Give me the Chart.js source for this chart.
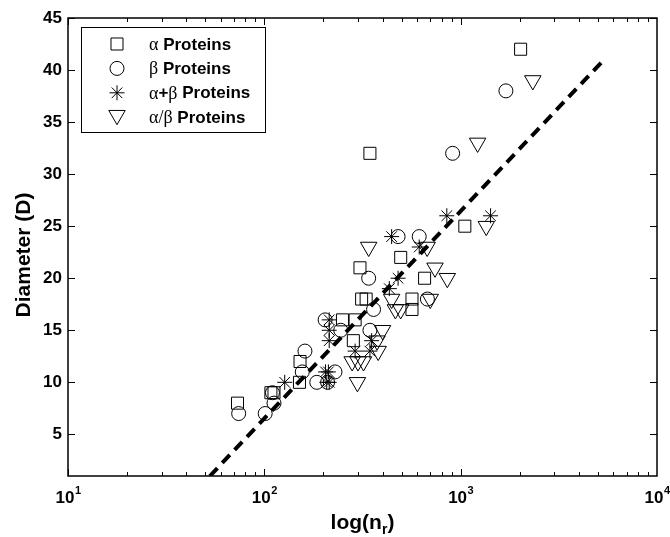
<!DOCTYPE html>
<html>
<head>
<meta charset="utf-8">
<script src="https://cdn.jsdelivr.net/npm/chart.js@4.4.1/dist/chart.umd.min.js"></script>
<style>
  html, body { margin: 0; padding: 0; background: #fff; }
  #wrap { width: 670px; height: 537px; position: relative; }
</style>
</head>
<body>
<div id="wrap"><canvas id="c"></canvas></div>
<script>
// ---- data (n_r, D) ----
const alphaX = [73, 108, 112, 151, 152, 250, 290, 284, 313, 330, 307, 345, 495, 565, 565, 655, 1050, 2020];
const alphaY = [8, 9, 9, 10, 12, 16, 16, 14, 18, 18, 21, 32, 22, 18, 17, 20, 25, 42];

const betaX = [74, 101, 112, 110, 156, 161, 185, 204, 210, 229, 245, 340, 345, 360, 480, 615, 677, 910, 1700];
const betaY = [7, 7, 8, 9, 11, 13, 10, 16, 10, 11, 15, 20, 15, 17, 24, 24, 18, 32, 38];

const abX = [127, 205, 212, 208, 214, 214, 214, 214, 290, 345, 352, 433, 480, 445, 615, 850, 1420];
const abY = [10, 11, 11, 10, 10, 14, 15, 16, 13, 13, 14, 19, 20, 24, 23, 26, 26];

const aSlashBX = [298, 280, 300, 320, 380, 375, 400, 465, 495, 445, 700, 855, 740, 340, 675, 1350, 1220, 2330];
const aSlashBY = [10, 12, 12, 12, 13, 14, 15, 17, 17, 18, 18, 20, 21, 23, 23, 25, 33, 39];

const fitX = [52.8, 5370];
const fitY = [1, 41];

const yTicks = [5, 10, 15, 20, 25, 30, 35, 40, 45];
const xDecades = [1, 2, 3, 4];

const legendItems = [
  { style: 'rect', radius: 8.5, rotation: 0, parts: [['α', 'serif'], [' Proteins', 'bold']] },
  { style: 'circle', radius: 7, rotation: 0, parts: [['β', 'serif'], [' Proteins', 'bold']] },
  { style: 'star', radius: 7.5, rotation: 0, parts: [['α', 'serif'], ['+', 'bold'], ['β', 'serif'], [' Proteins', 'bold']] },
  { style: 'triangle', radius: 9.5, rotation: 180, parts: [['α/β', 'serif'], [' Proteins', 'bold']] }
];

const pts = (xs, ys) => xs.map((v, i) => ({ x: v, y: ys[i] }));
const SANS = '"Liberation Sans", Arial, Helvetica, sans-serif';
const SERIF = '"Liberation Serif", "Times New Roman", serif';

const markerBase = { borderColor: '#000', backgroundColor: 'rgba(0,0,0,0)', borderWidth: 1, showLine: false };

const decor = {
  id: 'decor',
  afterDraw(chart) {
    const { ctx, chartArea: a, scales: { x, y } } = chart;
    ctx.save();
    ctx.strokeStyle = '#000';
    ctx.lineWidth = 1;
    ctx.beginPath();
    for (let e = 1; e < 4; e++) {
      for (let m = 1; m < 10; m++) {
        const px = Math.round(x.getPixelForValue(m * Math.pow(10, e))) + 0.5;
        const len = m === 1 ? 7 : 4;
        ctx.moveTo(px, a.bottom); ctx.lineTo(px, a.bottom - len);
        ctx.moveTo(px, a.top); ctx.lineTo(px, a.top + len);
      }
    }
    yTicks.forEach(v => {
      const py = Math.round(y.getPixelForValue(v)) + 0.5;
      ctx.moveTo(a.left, py); ctx.lineTo(a.left + 7, py);
      ctx.moveTo(a.right, py); ctx.lineTo(a.right - 7, py);
    });
    ctx.stroke();
    ctx.lineWidth = 1.5;
    ctx.strokeRect(a.left, a.top, a.right - a.left, a.bottom - a.top);

    // x tick labels 10^k
    ctx.fillStyle = '#000';
    ctx.textBaseline = 'alphabetic';
    xDecades.forEach(k => {
      const px = x.getPixelForValue(Math.pow(10, k));
      ctx.font = 'bold 17px ' + SANS;
      const w1 = ctx.measureText('10').width;
      ctx.font = 'bold 11px ' + SANS;
      const w2 = ctx.measureText(String(k)).width;
      const start = px - (w1 + w2) / 2;
      ctx.font = 'bold 17px ' + SANS;
      ctx.textAlign = 'left';
      ctx.fillText('10', start, a.bottom + 27);
      ctx.font = 'bold 11px ' + SANS;
      ctx.fillText(String(k), start + w1 + 0.5, a.bottom + 18);
    });

    // x title log(n_r)
    {
      const cx = (a.left + a.right) / 2;
      ctx.font = 'bold 21px ' + SANS;
      const wA = ctx.measureText('log(n').width;
      const wC = ctx.measureText(')').width;
      ctx.font = 'bold 14px ' + SANS;
      const wB = ctx.measureText('r').width;
      const sx = cx - (wA + wB + wC) / 2;
      const base = a.bottom + 53;
      ctx.font = 'bold 21px ' + SANS;
      ctx.fillText('log(n', sx, base);
      ctx.font = 'bold 14px ' + SANS;
      ctx.fillText('r', sx + wA, base + 5);
      ctx.font = 'bold 21px ' + SANS;
      ctx.fillText(')', sx + wA + wB, base);
    }

    // y title
    ctx.save();
    ctx.translate(30, (a.top + a.bottom) / 2 + 8);
    ctx.rotate(-Math.PI / 2);
    ctx.font = 'bold 21px ' + SANS;
    ctx.textAlign = 'center';
    ctx.textBaseline = 'alphabetic';
    ctx.fillText('Diameter (D)', 0, 0);
    ctx.restore();

    // legend
    const L = { x: 81, y: 27, w: 184, h: 105 };
    ctx.fillStyle = '#fff';
    ctx.fillRect(L.x, L.y, L.w, L.h);
    ctx.lineWidth = 1;
    ctx.strokeStyle = '#000';
    ctx.strokeRect(L.x + 0.5, L.y + 0.5, L.w, L.h);
    legendItems.forEach((it, i) => {
      const cy = 44 + i * 24.4;
      ctx.fillStyle = 'rgba(0,0,0,0)';
      ctx.strokeStyle = '#000';
      ctx.lineWidth = 1;
      Chart.helpers.drawPoint(ctx, { pointStyle: it.style, radius: it.radius, rotation: it.rotation, borderWidth: 1 }, 117, it.style === 'triangle' ? cy - 2 : cy);
      let tx = 149;
      ctx.fillStyle = '#000';
      ctx.textAlign = 'left';
      ctx.textBaseline = 'middle';
      it.parts.forEach(([t, f]) => {
        ctx.font = f === 'serif' ? '18px ' + SERIF : 'bold 17px ' + SANS;
        ctx.fillText(t, tx, cy + 1);
        tx += ctx.measureText(t).width;
      });
    });
    ctx.restore();
  }
};

new Chart(document.getElementById('c'), {
  type: 'scatter',
  data: {
    datasets: [
      Object.assign({ label: 'α Proteins', data: pts(alphaX, alphaY), pointStyle: 'rect', pointRadius: 8.5 }, markerBase),
      Object.assign({ label: 'β Proteins', data: pts(betaX, betaY), pointStyle: 'circle', pointRadius: 7 }, markerBase),
      Object.assign({ label: 'α+β Proteins', data: pts(abX, abY), pointStyle: 'star', pointRadius: 7.5 }, markerBase),
      Object.assign({ label: 'α/β Proteins', data: pts(aSlashBX, aSlashBY), pointStyle: 'triangle', pointRadius: 9.5, pointRotation: 180 }, markerBase),
      {
        label: 'fit', data: pts(fitX, fitY), showLine: true, borderColor: '#000', borderWidth: 4,
        borderDash: [11, 7], pointRadius: 0, fill: false, order: -1, tension: 0
      }
    ]
  },
  options: {
    responsive: true,
    maintainAspectRatio: false,
    animation: false,
    devicePixelRatio: 1,
    layout: { padding: { left: 0, right: 13, top: 18, bottom: 0 } },
    plugins: { legend: { display: false }, tooltip: { enabled: false } },
    scales: {
      x: {
        type: 'logarithmic', min: 10, max: 10000,
        grid: { display: false, drawTicks: false },
        border: { display: false },
        ticks: { display: false },
        afterFit(s) { s.height = 61; }
      },
      y: {
        type: 'linear', min: 1, max: 45,
        grid: { display: false, drawTicks: false },
        border: { display: false },
        afterBuildTicks(s) { s.ticks = yTicks.map(v => ({ value: v })); },
        ticks: { color: '#000', padding: 6, font: { family: SANS, size: 17, weight: 'bold' } },
        afterFit(s) { s.width = 68; }
      }
    }
  },
  plugins: [decor]
});
</script>
</body>
</html>
